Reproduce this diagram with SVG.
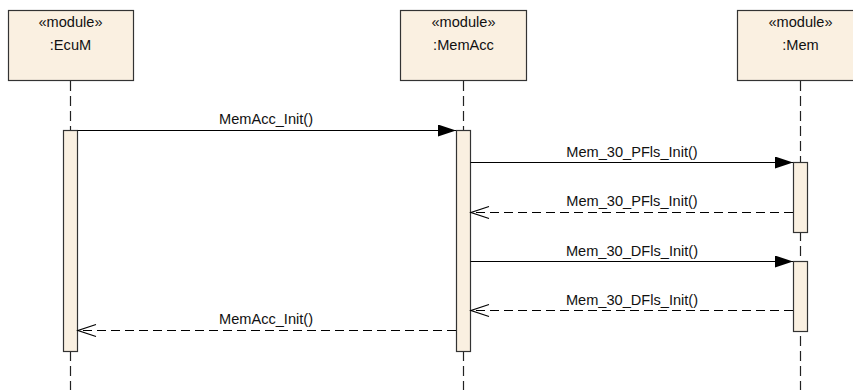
<svg xmlns="http://www.w3.org/2000/svg" width="853" height="390" viewBox="0 0 853 390">
<style>
.box{fill:#FAF0E1;stroke:#333;stroke-width:1.2}
.act{fill:#FAF0E1;stroke:#333;stroke-width:1.2}
.life{stroke:#222;stroke-width:1.2;stroke-dasharray:10,5;fill:none}
.t{font-family:"Liberation Sans",Arial,sans-serif;font-size:14.6px;fill:#111;text-anchor:middle}
.call{stroke:#000;stroke-width:1.2;fill:none}
.ret{stroke:#000;stroke-width:1.2;fill:none;stroke-dasharray:9,5}
</style>
<defs>
<marker id="filled" markerUnits="userSpaceOnUse" markerWidth="20" markerHeight="14" refX="18" refY="6" orient="auto">
<path d="M0,0 L18,6 L0,12 Z" fill="#000" stroke="none"/>
</marker>
<marker id="open" markerUnits="userSpaceOnUse" markerWidth="20" markerHeight="14" refX="18" refY="6" orient="auto" overflow="visible">
<path d="M0,0 L18,6 L0,12" fill="none" stroke="#000" stroke-width="1.2" stroke-dasharray="none"/>
</marker>
</defs>
<g id="node-ecum">
<rect class="box" x="8.5" y="10.5" width="125" height="70"/>
<text class="t" x="70.5" y="27">«module»</text>
<text class="t" x="70.5" y="49.5">:EcuM</text>
<line class="life" x1="70.5" y1="81" x2="70.5" y2="390"/>
<rect class="act" x="63.5" y="130.5" width="14" height="221"/>
</g>
<g id="node-memacc">
<rect class="box" x="400.5" y="10.5" width="126" height="70"/>
<text class="t" x="463.5" y="27">«module»</text>
<text class="t" x="463.5" y="49.5">:MemAcc</text>
<line class="life" x1="463.5" y1="81" x2="463.5" y2="390"/>
<rect class="act" x="456.5" y="130.5" width="14" height="221"/>
</g>
<g id="node-mem">
<rect class="box" x="737.5" y="10.5" width="126" height="70"/>
<text class="t" x="800.5" y="27">«module»</text>
<text class="t" x="800.5" y="49.5">:Mem</text>
<line class="life" x1="800.5" y1="81" x2="800.5" y2="390"/>
<rect class="act" x="793.5" y="162.5" width="14" height="70"/>
<rect class="act" x="793.5" y="261.5" width="14" height="70"/>
</g>
<g id="connectors">
<line class="call" x1="77.5" y1="130.5" x2="456" y2="130.5" marker-end="url(#filled)"/>
<text class="t" x="266" y="124">MemAcc_Init()</text>
<line class="call" x1="470.5" y1="162.5" x2="793" y2="162.5" marker-end="url(#filled)"/>
<text class="t" x="632" y="157">Mem_30_PFls_Init()</text>
<line class="ret" x1="793" y1="212.5" x2="471" y2="212.5" marker-end="url(#open)"/>
<text class="t" x="632" y="206">Mem_30_PFls_Init()</text>
<line class="call" x1="470.5" y1="261.5" x2="793" y2="261.5" marker-end="url(#filled)"/>
<text class="t" x="632" y="255.5">Mem_30_DFls_Init()</text>
<line class="ret" x1="793" y1="310.5" x2="471" y2="310.5" marker-end="url(#open)"/>
<text class="t" x="632" y="304.5">Mem_30_DFls_Init()</text>
<line class="ret" x1="456" y1="330.5" x2="78" y2="330.5" marker-end="url(#open)"/>
<text class="t" x="266" y="324">MemAcc_Init()</text>
</g>
</svg>
